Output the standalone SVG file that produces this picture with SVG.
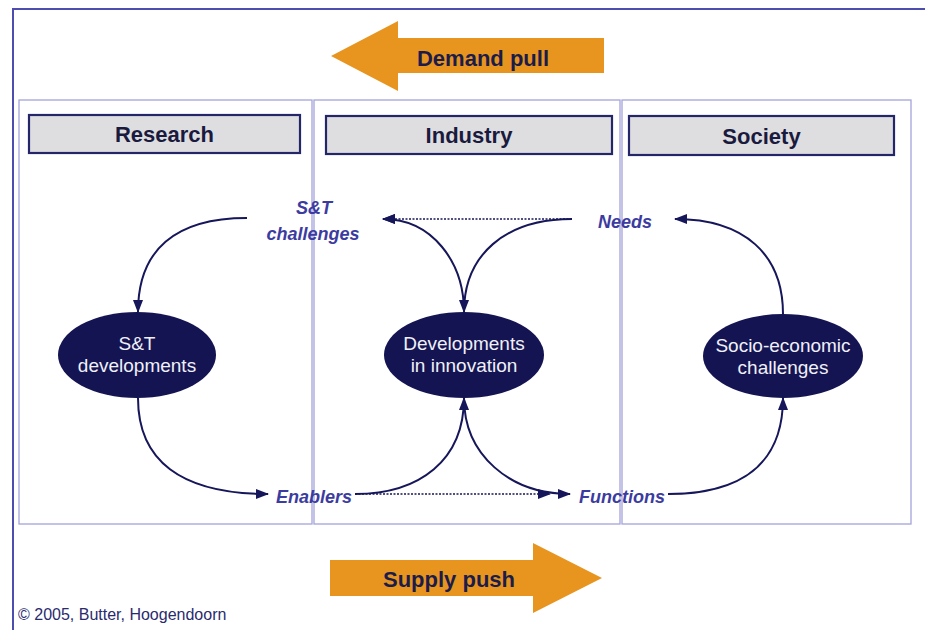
<svg xmlns="http://www.w3.org/2000/svg" width="925" height="630" viewBox="0 0 925 630">
<defs>
<marker id="ah" markerUnits="userSpaceOnUse" markerWidth="14" markerHeight="12" refX="12" refY="5" orient="auto">
<path d="M0,0 L13,5 L0,10 Z" fill="#16165a"/>
</marker>
<style>
.panel{fill:none;stroke:#a4a4dc;stroke-width:1.3}
.hdr rect{fill:#dedee0;stroke:#25256a;stroke-width:2.2}
.hdr text{font-family:"Liberation Sans",Arial,sans-serif;font-weight:bold;font-size:22px;fill:#1a1a3e;text-anchor:middle}
.big{fill:#e8951f}
.big-t{font-family:"Liberation Sans",Arial,sans-serif;font-weight:bold;font-size:22px;fill:#1c1c4a;text-anchor:middle}
.ell ellipse{fill:#141452}
.ell text{font-family:"Liberation Sans",Arial,sans-serif;font-size:19px;fill:#f0f0f8;text-anchor:middle}
.lbl text{font-family:"Liberation Sans",Arial,sans-serif;font-weight:bold;font-style:italic;font-size:18px;fill:#3c3ca0;text-anchor:middle}
.c{fill:none;stroke:#16165a;stroke-width:2;marker-end:url(#ah)}
.d{fill:none;stroke:#16165a;stroke-width:1.4;stroke-dasharray:2,1.5;marker-end:url(#ah)}
</style>
</defs>
<rect width="925" height="630" fill="#ffffff"/>
<path d="M13,630 L13,9 L925,9" fill="none" stroke="#4d4db0" stroke-width="2"/>

<g id="panels">
<rect class="panel" x="19" y="100" width="293" height="424"/>
<rect class="panel" x="314" y="100" width="306" height="424"/>
<rect class="panel" x="622" y="100" width="289" height="424"/>
</g>

<g id="hdr-research" class="hdr"><rect x="29" y="115" width="271" height="38"/><text x="164.5" y="142">Research</text></g>
<g id="hdr-industry" class="hdr"><rect x="326" y="116" width="286" height="38"/><text x="469" y="143">Industry</text></g>
<g id="hdr-society" class="hdr"><rect x="629" y="116" width="265" height="39"/><text x="761.5" y="144">Society</text></g>

<g id="demand-pull">
<polygon class="big" points="331,56 398,21 398,38 604,38 604,73 398,73 398,91"/>
<text class="big-t" x="483" y="66">Demand pull</text>
</g>
<g id="supply-push">
<polygon class="big" points="330,560 533,560 533,543 602,578 533,613 533,596 330,596"/>
<text class="big-t" x="449" y="587">Supply push</text>
</g>

<g id="st-dev" class="ell"><ellipse cx="137" cy="355" rx="79" ry="43"/><text x="137" y="350">S&amp;T</text><text x="137" y="372">developments</text></g>
<g id="dev-innov" class="ell"><ellipse cx="464" cy="355" rx="80" ry="43"/><text x="464" y="350">Developments</text><text x="464" y="372">in innovation</text></g>
<g id="socio" class="ell"><ellipse cx="783" cy="356" rx="80" ry="42"/><text x="783" y="352">Socio-economic</text><text x="783" y="374">challenges</text></g>

<g id="st-challenges" class="lbl"><text x="314" y="214">S&amp;T</text><text x="313" y="240">challenges</text></g>
<g id="needs" class="lbl"><text x="625" y="228">Needs</text></g>
<g id="enablers" class="lbl"><text x="314" y="503">Enablers</text></g>
<g id="functions" class="lbl"><text x="622" y="503">Functions</text></g>

<g id="connectors">
<path class="c" d="M247,218 C175,218 138,250 138,312"/>
<path class="c" d="M138,398 C138,460 180,494 268,494"/>
<path class="d" d="M572,219 L383,219"/>
<path class="c" d="M572,219 C505,219 464,255 464,312"/>
<path class="c" d="M464,312 C464,262 432,219 383,219"/>
<path class="c" d="M355,494 C420,494 464,460 464,398"/>
<path class="d" d="M355,494 L550,494"/>
<path class="c" d="M464,398 C464,455 510,494 570,494"/>
<path class="c" d="M668,494 C740,494 783,465 783,398"/>
<path class="c" d="M783,314 C783,255 745,219 675,219"/>
</g>

<text x="18" y="620" font-family="Liberation Sans, Arial, sans-serif" font-size="16" fill="#2a2a6e">© 2005, Butter, Hoogendoorn</text>
</svg>
